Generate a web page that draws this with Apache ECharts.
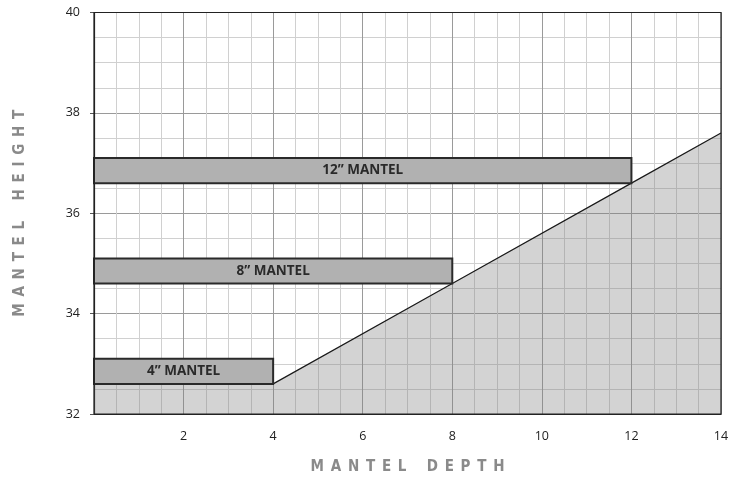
<!DOCTYPE html>
<html>
<head>
<meta charset="utf-8">
<script src="https://cdn.jsdelivr.net/npm/echarts@6/dist/echarts.min.js"></script>
<style>html,body{margin:0;padding:0;background:#fff}#chart{width:742px;height:480px}</style>
</head>
<body>
<div id="chart"></div>
<script>
// Clearance line (mantel depth -> minimum height)
const clearanceDepths = [0, 4, 8, 12, 14];
const clearanceHeights = [32.6, 32.6, 34.6, 36.6, 37.6];
// Mantels
const mantelLabels = ['4\u201D MANTEL', '8\u201D MANTEL', '12\u201D MANTEL'];
const mantelDepths = [4, 8, 12];
const mantelBottoms = [32.6, 34.6, 36.6];
const mantelTops = [33.1, 35.1, 37.1];
// Axes
const xMin = 0, xMax = 14, xStep = 2;
const yMin = 32, yMax = 40, yStep = 2;

const sp = '\u2002';
const spaced = s => s.split('').map(c => c === ' ' ? sp : c).join(sp);

const chart = echarts.init(document.getElementById('chart'));
const mantelData = mantelLabels.map((l, i) => [0, mantelDepths[i], mantelBottoms[i], mantelTops[i], l]);
const clearanceData = clearanceDepths.map((d, i) => [d, clearanceHeights[i]]);

const titleStyle = { color: '#8a8a8a', fontSize: 15, fontWeight: 'bold', fontFamily: 'DejaVu Sans Condensed, DejaVu Sans' };

chart.setOption({
  animation: false,
  grid: { left: 94, right: 21, top: 12.5, bottom: 65, show: true, borderColor: '#222', borderWidth: 1.2, z: 5 },
  xAxis: {
    type: 'value', min: xMin, max: xMax, interval: xStep,
    name: spaced('MANTEL DEPTH'), nameLocation: 'middle', nameGap: 46,
    nameTextStyle: titleStyle,
    axisLine: { show: true, lineStyle: { color: '#222', width: 1.2 } },
    axisTick: { show: false },
    axisLabel: { color: '#222', fontSize: 12.5, fontFamily: 'Open Sans', margin: 16,
      formatter: v => v === 0 ? '' : String(v) },
    splitLine: { show: true, lineStyle: { color: '#9a9a9a', width: 1 } },
    minorTick: { show: false, splitNumber: 4 },
    minorSplitLine: { show: true, lineStyle: { color: '#d0d0d0', width: 1 } }
  },
  yAxis: {
    type: 'value', min: yMin, max: yMax, interval: yStep,
    name: spaced('MANTEL HEIGHT'), nameLocation: 'middle', nameGap: 66, nameRotate: 90,
    nameTextStyle: titleStyle,
    axisLine: { show: true, lineStyle: { color: '#222', width: 1.2 } },
    axisTick: { show: true, length: 4, lineStyle: { color: '#555' } },
    axisLabel: { color: '#222', fontSize: 12.5, fontFamily: 'Open Sans', margin: 14 },
    splitLine: { show: true, lineStyle: { color: '#9a9a9a', width: 1 } },
    minorTick: { show: false, splitNumber: 4 },
    minorSplitLine: { show: true, lineStyle: { color: '#d0d0d0', width: 1 } }
  },
  series: [
    {
      type: 'line', data: clearanceData, symbol: 'none', z: 2,
      lineStyle: { color: '#1a1a1a', width: 1.2 },
      areaStyle: { color: 'rgba(128,128,128,0.35)', opacity: 1, origin: 'start' }
    },
    {
      type: 'custom', z: 3, data: mantelData,
      renderItem: (params, api) => {
        const p0 = api.coord([api.value(0), api.value(3)]);
        const p1 = api.coord([api.value(1), api.value(2)]);
        return {
          type: 'rect',
          shape: { x: p0[0], y: p0[1], width: p1[0] - p0[0], height: p1[1] - p0[1] },
          style: { fill: '#b1b1b1', stroke: '#2a2a2a', lineWidth: 2 },
          textContent: { style: { text: api.value(4), fill: '#2a2a2a', fontSize: 13.5, fontWeight: 'bold', fontFamily: 'Open Sans' } },
          textConfig: { position: 'inside' }
        };
      }
    }
  ]
});
</script>
</body>
</html>
